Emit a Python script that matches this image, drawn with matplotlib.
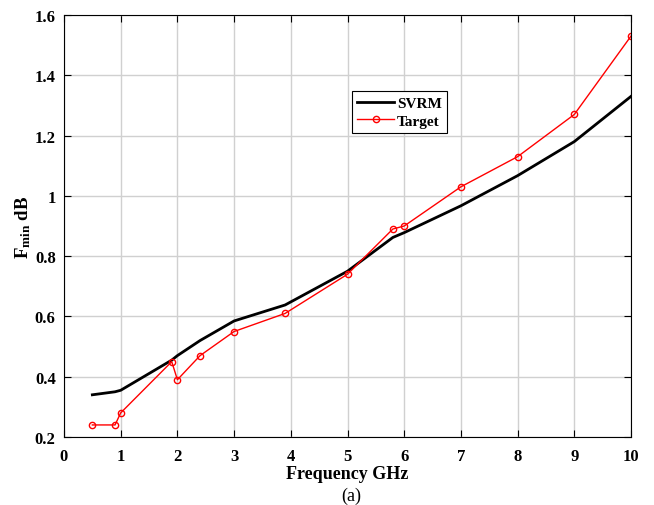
import matplotlib
matplotlib.use("Agg")
from matplotlib import pyplot as plt

# Frequency points (GHz)
freq = [0.5, 0.9, 1.0, 1.9, 2.0, 2.4, 3.0, 3.9, 5.0, 5.8, 6.0, 7.0, 8.0, 9.0, 10.0]
# SVRM predicted Fmin (dB)
svrm = [0.34, 0.35, 0.355, 0.455, 0.47, 0.52, 0.585, 0.638, 0.75, 0.862, 0.878, 0.967, 1.067, 1.18, 1.33]
# Target Fmin (dB)
target = [0.24, 0.24, 0.28, 0.45, 0.39, 0.47, 0.55, 0.61, 0.74, 0.89, 0.90, 1.03, 1.13, 1.27, 1.53]

xticks = [0, 1, 2, 3, 4, 5, 6, 7, 8, 9, 10]
yticks = [0.2, 0.4, 0.6, 0.8, 1.0, 1.2, 1.4, 1.6]
ytick_labels = ["0.2", "0.4", "0.6", "0.8", "1", "1.2", "1.4", "1.6"]

plt.rcParams['font.family'] = ['Liberation Serif', 'DejaVu Serif']
plt.rcParams['font.weight'] = 'bold'
plt.rcParams['mathtext.fontset'] = 'custom'
plt.rcParams['mathtext.rm'] = 'Liberation Serif:bold'
plt.rcParams['mathtext.bf'] = 'Liberation Serif:bold'

fig = plt.figure(figsize=(6.54, 5.06), dpi=100)
ax = fig.add_axes([64/654, 1 - 438/506, 567/654, 422/506])

ax.plot(freq, svrm, color='black', lw=2, label='SVRM')
ax.plot(freq, target, color='red', lw=1, marker='o', ms=4.5, mfc='none', mew=1, label='Target')

ax.set_xlim(0, 10)
ax.set_ylim(0.2, 1.6)
ax.set_xticks(xticks)
ax.set_yticks(yticks)
ax.set_yticklabels(ytick_labels)
ax.tick_params(direction='in', top=True, right=True, labelsize=12, length=5, width=0.8)
ax.tick_params(axis='x', pad=8)
ax.tick_params(axis='y', pad=6)
for lbl in ax.get_xticklabels() + ax.get_yticklabels():
    lbl.set_fontweight('bold')
ax.grid(True, color='#d0d0d0', lw=1)
ax.set_axisbelow(True)
for s in ax.spines.values():
    s.set_linewidth(0.8)

ax.set_xlabel('Frequency GHz', fontsize=13, fontweight='bold', labelpad=1)
ax.set_ylabel(r'$\mathbf{F_{min}}$ dB', fontsize=13.5, fontweight='bold', labelpad=1)
fig.text(0.5 * (64 + 631) / 654 + 0.005, 0.002, '(a)', ha='center', va='bottom', fontsize=13, fontweight='normal')

leg = ax.legend(loc='upper left', bbox_to_anchor=(0.508, 0.82), fancybox=False,
                edgecolor='black', framealpha=1, fontsize=11, handlelength=2.4,
                borderpad=0.35, labelspacing=0.25, handletextpad=0.2, borderaxespad=0)
leg.get_frame().set_linewidth(0.8)
for t in leg.get_texts():
    t.set_fontweight('bold')

fig.savefig('out.png', dpi=100)
